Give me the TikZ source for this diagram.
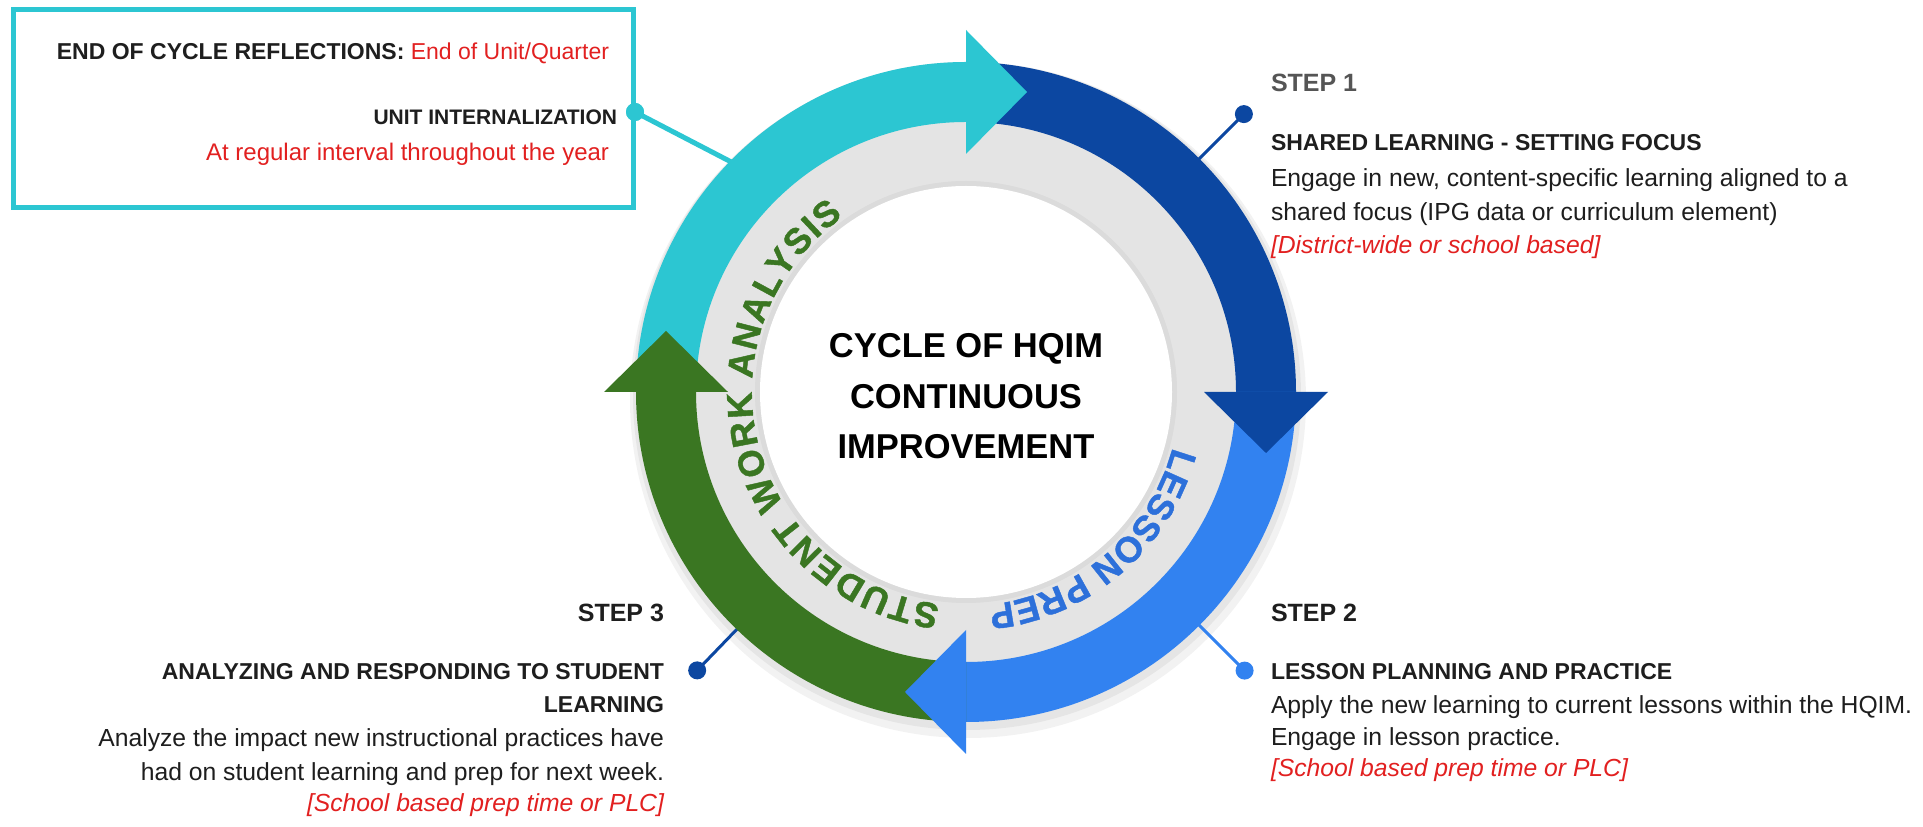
\documentclass[tikz,border=0pt]{standalone}
\usepackage{fontspec}
\setmainfont{Liberation Sans}
\newfontfamily\arcfont[FakeBold=1.2]{Liberation Sans Bold}
\usetikzlibrary{calc,decorations.text}
\definecolor{arrcyan}{RGB}{44,198,210}
\definecolor{arrdark}{RGB}{12,71,161}
\definecolor{arrlight}{RGB}{50,130,240}
\definecolor{arrgreen}{RGB}{58,118,34}
\definecolor{ringgray}{RGB}{228,228,228}
\definecolor{txtred}{RGB}{226,32,32}
\definecolor{txtdark}{RGB}{30,30,30}
\definecolor{txtgray}{RGB}{85,85,85}
\definecolor{prepblue}{RGB}{45,112,218}
\begin{document}
\begin{tikzpicture}[x=1pt,y=1pt,
  every node/.style={inner sep=0pt, outer sep=0pt},
  dotnode/.style={circle, fill=#1, minimum size=18pt, inner sep=0pt},
  steptxt/.style={font=\fontsize{25}{28}\selectfont\bfseries},
  headtxt/.style={font=\fontsize{23}{26}\selectfont\bfseries, text=txtdark},
  bodytxt/.style={font=\fontsize{24.7}{28}\selectfont, text=txtdark},
  redtxt/.style={font=\fontsize{24.7}{28}\selectfont\itshape, text=txtred},
  centxt/.style={font=\fontsize{34.5}{40}\selectfont\bfseries, text=black},
  conn/.style={line width=3pt}
]
\useasboundingbox (0,0) rectangle (1923,827);
\fill[white] (0,0) rectangle (1923,827);
\coordinate (O) at (966,435);

% soft shadow
\fill[black, opacity=0.05] ($(O)+(2,-8)$) circle (338);
\fill[black, opacity=0.05] ($(O)+(1,-4)$) circle (334);

% connectors
\coordinate (rb) at ($(O)+(135:318)$);
\coordinate (r1) at ($(O)+(45:320)$);
\coordinate (r2) at ($(O)+(-45:320)$);
\coordinate (r3) at ($(O)+(226:320)$);
\node[dotnode=arrcyan] (db) at (635,715) {};
\node[dotnode=arrdark] (d1) at ($(O)+(45:393)$) {};
\node[dotnode=arrlight] (d2) at ($(O)+(-45:394)$) {};
\node[dotnode=arrdark] (d3) at ($(O)+(226:387)$) {};
\draw[arrcyan, line width=5pt] (db.center) -- (rb);
\draw[arrdark, conn] (d1.center) -- (r1);
\draw[arrlight, conn] (d2.center) -- (r2);
\draw[arrdark, conn] (d3.center) -- (r3);

% gray ring and white disk
\fill[ringgray] (O) circle (272);
\fill[black, opacity=0.04] (O) circle (211);
\fill[white] (O) circle (206);

% bands
\fill[arrcyan] ($(O)+(180:330)$) arc[start angle=180,end angle=90,radius=330] -- ($(O)+(90:270)$) arc[start angle=90,end angle=180,radius=270] -- cycle;
\fill[arrdark] ($(O)+(90:330)$) arc[start angle=90,end angle=0,radius=330] -- ($(O)+(0:270)$) arc[start angle=0,end angle=90,radius=270] -- cycle;
\fill[arrlight] ($(O)+(0:330)$) arc[start angle=0,end angle=-90,radius=330] -- ($(O)+(-90:270)$) arc[start angle=-90,end angle=0,radius=270] -- cycle;
\fill[arrgreen] ($(O)+(270:330)$) arc[start angle=270,end angle=180,radius=330] -- ($(O)+(180:270)$) arc[start angle=180,end angle=270,radius=270] -- cycle;

% arrowheads
\fill[arrcyan] ($(O)+(90:238)$) -- ($(O)+(90:362)$) -- ($(O)+(90:300)+(0:61)$) -- cycle;
\fill[arrdark] ($(O)+(0:238)$) -- ($(O)+(0:362)$) -- ($(O)+(0:300)+(-90:61)$) -- cycle;
\fill[arrlight] ($(O)+(270:238)$) -- ($(O)+(270:362)$) -- ($(O)+(270:300)+(180:61)$) -- cycle;
\fill[arrgreen] ($(O)+(180:238)$) -- ($(O)+(180:362)$) -- ($(O)+(180:300)+(90:61)$) -- cycle;

% arc texts
\path[decorate, decoration={text along path, text color=arrgreen, text align={fit to path},
  text={|\fontsize{36}{36}\arcfont|STUDENT WORK ANALYSIS}}]
  ($(O)+(263:214)$) arc[start angle=263, end angle=125, radius=214];
\path[decorate, decoration={text along path, text color=prepblue, text align={fit to path},
  text={|\fontsize{36}{36}\arcfont|LESSON PREP}}]
  ($(O)+(-15:214)$) arc[start angle=-15, end angle=-84, radius=214];

% center text
\node[centxt, anchor=base] (c1) at (966,469) {CYCLE OF HQIM};
\node[centxt, anchor=base] (c2) at (966,418) {CONTINUOUS};
\node[centxt, anchor=base] (c3) at (966,368) {IMPROVEMENT};

% box
\node[draw=arrcyan, line width=5pt, minimum width=620pt, minimum height=198pt] (box) at (323.5,718.5) {};
\node[anchor=base east, font=\fontsize{23}{26}\selectfont, text=txtdark] (b1) at (609,767) {\textbf{END OF CYCLE REFLECTIONS:} \textcolor{txtred}{End of Unit/Quarter}};
\node[anchor=base east, font=\fontsize{21}{24}\selectfont\bfseries, text=txtdark] (b2) at (617,702) {UNIT INTERNALIZATION};
\node[anchor=base east, font=\fontsize{24}{27}\selectfont, text=txtred] (b3) at (609,666) {At regular interval throughout the year};
\node[dotnode=arrcyan] (db2) at (db) {};

% step 1
\node[anchor=base west, steptxt, text=txtgray] (s1) at (1271,735) {STEP 1};
\node[anchor=base west, headtxt] (s1h) at (1271,676) {SHARED LEARNING - SETTING FOCUS};
\node[anchor=base west, bodytxt] (s1a) at (1271,640) {Engage in new, content-specific learning aligned to a};
\node[anchor=base west, bodytxt] (s1b) at (1271,606) {shared focus (IPG data or curriculum element)};
\node[anchor=base west, redtxt] (s1c) at (1271,573) {[District-wide or school based]};

% step 2
\node[anchor=base west, steptxt, text=txtdark] (s2) at (1271,205) {STEP 2};
\node[anchor=base west, headtxt] (s2h) at (1271,147) {LESSON PLANNING AND PRACTICE};
\node[anchor=base west, bodytxt] (s2a) at (1271,113) {Apply the new learning to current lessons within the HQIM.};
\node[anchor=base west, bodytxt] (s2b) at (1271,81) {Engage in lesson practice.};
\node[anchor=base west, redtxt] (s2c) at (1271,50) {[School based prep time or PLC]};

% step 3
\node[anchor=base east, steptxt, text=txtdark] (s3) at (664,205) {STEP 3};
\node[anchor=base east, headtxt] (s3h) at (664,147) {ANALYZING AND RESPONDING TO STUDENT};
\node[anchor=base east, headtxt] (s3l) at (664,114) {LEARNING};
\node[anchor=base east, bodytxt] (s3a) at (664,80) {Analyze the impact new instructional practices have};
\node[anchor=base east, bodytxt] (s3b) at (664,46) {had on student learning and prep for next week.};
\node[anchor=base east, redtxt] (s3c) at (664,15) {[School based prep time or PLC]};
\end{tikzpicture}
\end{document}
